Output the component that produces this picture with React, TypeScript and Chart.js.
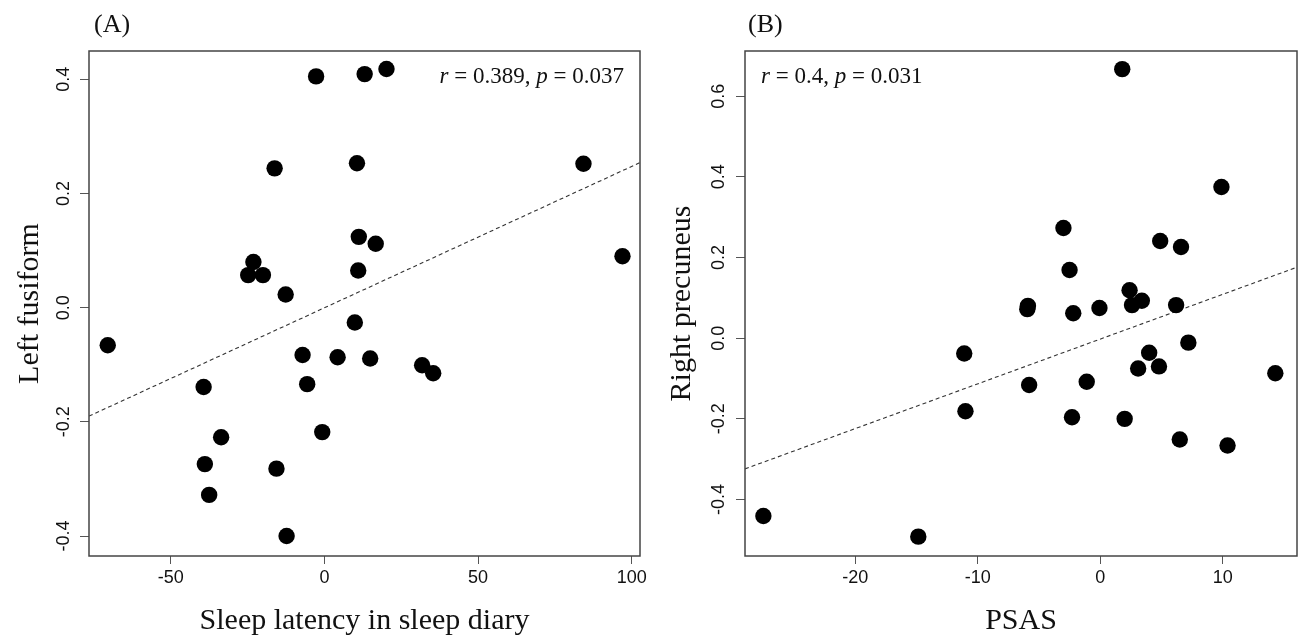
import React, { useEffect, useRef } from 'react';
import { Chart, registerables } from 'chart.js';

Chart.register(...registerables);

// ---------- Panel A data ----------
const latencyA = [-2.7, 13.1, 20.2, -16.2, 10.6, 84.3, 11.2, 16.7, 97.0, -23.1, -24.8, -20.0, 11.0, -12.6,
  -70.5, 9.9, -7.1, 4.3, 14.9, 31.8, 35.4, -39.3, -5.6, -0.7, -33.6, -38.9, -15.6, -37.5, -12.3];
const fusiformA = [0.405, 0.409, 0.418, 0.244, 0.253, 0.252, 0.124, 0.112, 0.090, 0.080, 0.057, 0.057, 0.065, 0.023,
  -0.066, -0.026, -0.083, -0.087, -0.089, -0.101, -0.115, -0.139, -0.134, -0.218, -0.227, -0.274, -0.282, -0.328, -0.400];
const fitAX = [-76.6, 102.7];
const fitAY = [-0.19, 0.254];
const xTicksA = [-50, 0, 50, 100];
const yTicksA = [-0.4, -0.2, 0.0, 0.2, 0.4];
const xRangeA = [-76.6, 102.7];
const yRangeA = [-0.435, 0.4495];

// ---------- Panel B data ----------
const psasB = [1.8, 9.9, -3.0, 4.9, 6.6, -2.5, 2.4, 3.4, 2.6, 6.2, -5.9, -5.95, -0.06, -2.2, 7.2,
  -11.1, 4.0, 3.1, 4.8, 14.3, -5.8, -1.1, -11.0, -2.3, 2.0, 6.5, 10.4, -27.5, -14.85];
const precuneusB = [0.667, 0.375, 0.273, 0.241, 0.226, 0.169, 0.119, 0.093, 0.082, 0.082, 0.080, 0.072, 0.075, 0.062, -0.011,
  -0.038, -0.036, -0.075, -0.070, -0.087, -0.116, -0.108, -0.181, -0.196, -0.200, -0.251, -0.266, -0.441, -0.492];
const fitBX = [-29.0, 16.07];
const fitBY = [-0.324, 0.176];
const xTicksB = [-20, -10, 0, 10];
const yTicksB = [-0.4, -0.2, 0.0, 0.2, 0.4, 0.6];
const xRangeB = [-29.0, 16.07];
const yRangeB = [-0.540, 0.712];

const SERIF = '"Liberation Serif", "Times New Roman", serif';
const SANS = '"Liberation Sans", Arial, sans-serif';

type Seg = { t: string; i?: boolean };

const boxPlugin = {
  id: 'box',
  afterDraw(chart: any, _args: any, opts: any) {
    const { ctx, chartArea: a } = chart;
    ctx.save();
    ctx.strokeStyle = '#444';
    ctx.lineWidth = 1.5;
    ctx.strokeRect(a.left, a.top, a.right - a.left, a.bottom - a.top);
    ctx.fillStyle = '#111';
    ctx.textBaseline = 'alphabetic';
    ctx.textAlign = 'left';
    ctx.font = `26px ${SERIF}`;
    ctx.fillText(opts.panel, opts.panelX, 32);
    const segs: Seg[] = opts.stat;
    const fontOf = (s: Seg) => `${s.i ? 'italic ' : ''}23px ${SERIF}`;
    let total = 0;
    for (const s of segs) { ctx.font = fontOf(s); total += ctx.measureText(s.t).width; }
    let x = opts.statAlign === 'right' ? opts.statX - total : opts.statX;
    for (const s of segs) {
      ctx.font = fontOf(s);
      ctx.fillText(s.t, x, 83);
      x += ctx.measureText(s.t).width;
    }
    ctx.restore();
  },
};

type PanelCfg = {
  xs: number[]; ys: number[]; fitX: number[]; fitY: number[];
  xTicks: number[]; yTicks: number[]; xRange: number[]; yRange: number[];
  xTitle: string; yTitle: string; yAxisWidth: number; padRight: number;
  yTitlePad: number; yTickPad: number;
  panel: string; panelX: number; stat: Seg[]; statX: number; statAlign: string;
  xDecimals: number;
};

function Panel({ cfg, left }: { cfg: PanelCfg; left: number }) {
  const ref = useRef<HTMLCanvasElement>(null);
  useEffect(() => {
    const pts = cfg.xs.map((x, i) => ({ x, y: cfg.ys[i] }));
    const fit = cfg.fitX.map((x, i) => ({ x, y: cfg.fitY[i] }));
    const chart = new Chart(ref.current!, {
      type: 'scatter',
      data: {
        datasets: [
          {
            data: fit, showLine: true, pointRadius: 0, borderColor: '#333', borderWidth: 1.1,
            borderDash: [4, 3], backgroundColor: '#333', order: 2,
          } as any,
          {
            data: pts, pointRadius: 8.2, pointBorderWidth: 0, backgroundColor: '#000',
            borderColor: '#000', order: 1,
          } as any,
        ],
      },
      options: {
        animation: false,
        responsive: false,
        events: [],
        layout: { autoPadding: false, padding: { left: 0, top: 51, right: cfg.padRight, bottom: 0 } },
        plugins: {
          legend: { display: false },
          tooltip: { enabled: false },
          box: { panel: cfg.panel, panelX: cfg.panelX, stat: cfg.stat, statX: cfg.statX, statAlign: cfg.statAlign },
        } as any,
        scales: {
          x: {
            type: 'linear', min: cfg.xRange[0], max: cfg.xRange[1],
            afterBuildTicks: (s: any) => { s.ticks = cfg.xTicks.map((v) => ({ value: v })); },
            afterFit: (s: any) => { s.height = 81; },
            ticks: {
              font: { family: SANS, size: 18 }, color: '#111', padding: 3,
              maxRotation: 0, minRotation: 0, autoSkip: false,
              callback: (v: any) => Number(v).toFixed(cfg.xDecimals),
            },
            grid: { display: true, drawOnChartArea: false, drawTicks: true, tickLength: 8, color: '#555', lineWidth: 1 },
            border: { display: false },
            title: {
              display: true, text: cfg.xTitle, color: '#111',
              font: { family: SERIF, size: 30, lineHeight: 1 }, padding: { top: 0, bottom: 1 },
            },
          },
          y: {
            type: 'linear', min: cfg.yRange[0], max: cfg.yRange[1],
            afterBuildTicks: (s: any) => { s.ticks = cfg.yTicks.map((v) => ({ value: v })); },
            afterFit: (s: any) => { s.width = cfg.yAxisWidth; },
            ticks: {
              font: { family: SANS, size: 18 }, color: '#111', padding: cfg.yTickPad,
              minRotation: 90, maxRotation: 90, crossAlign: 'center', autoSkip: false,
              callback: (v: any) => Number(v).toFixed(1),
            },
            grid: { display: true, drawOnChartArea: false, drawTicks: true, tickLength: 9, color: '#555', lineWidth: 1 },
            border: { display: false },
            title: {
              display: true, text: cfg.yTitle, color: '#111',
              font: { family: SERIF, size: 30, lineHeight: 1 }, padding: { top: cfg.yTitlePad, bottom: 0 },
            },
          },
        },
      } as any,
      plugins: [boxPlugin as any],
    });
    return () => chart.destroy();
  }, [cfg]);
  return (
    <canvas ref={ref} width={650} height={637}
      style={{ position: 'absolute', left, top: 0, width: 650, height: 637 }} />
  );
}

const cfgA: PanelCfg = {
  xs: latencyA, ys: fusiformA, fitX: fitAX, fitY: fitAY,
  xTicks: xTicksA, yTicks: yTicksA, xRange: xRangeA, yRange: yRangeA,
  xTitle: 'Sleep latency in sleep diary', yTitle: 'Left fusiform',
  yAxisWidth: 89, padRight: 10, yTitlePad: 15, yTickPad: 0,
  panel: '(A)', panelX: 94,
  stat: [{ t: 'r', i: true }, { t: ' = 0.389, ' }, { t: 'p', i: true }, { t: ' = 0.037' }],
  statX: 624, statAlign: 'right', xDecimals: 0,
};

const cfgB: PanelCfg = {
  xs: psasB, ys: precuneusB, fitX: fitBX, fitY: fitBY,
  xTicks: xTicksB, yTicks: yTicksB, xRange: xRangeB, yRange: yRangeB,
  xTitle: 'PSAS', yTitle: 'Right precuneus',
  yAxisWidth: 95, padRight: 3, yTitlePad: 17, yTickPad: 1,
  panel: '(B)', panelX: 98,
  stat: [{ t: 'r', i: true }, { t: ' = 0.4, ' }, { t: 'p', i: true }, { t: ' = 0.031' }],
  statX: 111, statAlign: 'left', xDecimals: 0,
};

export default function App() {
  return (
    <div style={{ position: 'absolute', left: 0, top: 0, width: 1300, height: 637, background: '#fff', overflow: 'hidden' }}>
      <Panel cfg={cfgA} left={0} />
      <Panel cfg={cfgB} left={650} />
    </div>
  );
}
